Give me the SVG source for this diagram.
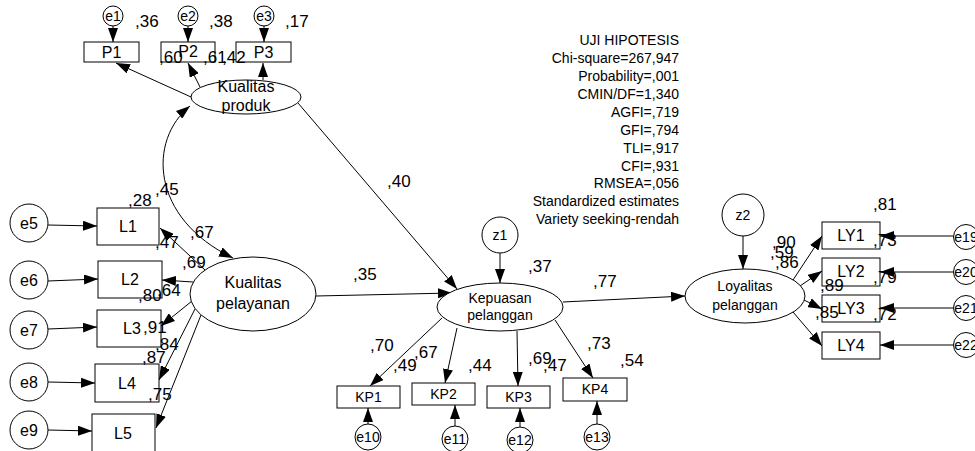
<svg xmlns="http://www.w3.org/2000/svg" width="975" height="451" viewBox="0 0 975 451">
<defs>
<marker id="ah" markerUnits="userSpaceOnUse" markerWidth="14" markerHeight="10" refX="14" refY="5" orient="auto-start-reverse"><path d="M0,0 L14,5 L0,10 z" fill="#000"/></marker>
<style>
text{font-family:"Liberation Sans",Arial,sans-serif;fill:#000}
.b{fill:#fff;stroke:#000;stroke-width:1}
.n{font-size:16px;text-anchor:middle}
.s{font-size:14px;text-anchor:middle}
.e{font-size:14px;text-anchor:middle}
.lb{font-size:17px}
.st{font-size:14px;text-anchor:end}
.c line,.c path{stroke:#000;stroke-width:1;fill:none;marker-end:url(#ah)}
</style>
</defs>
<rect width="975" height="451" fill="#fff"/>
<g class="c" id="connectors">
<line x1="113" y1="26" x2="113" y2="42"/>
<line x1="188" y1="26" x2="188" y2="42"/>
<line x1="264" y1="26" x2="264" y2="42"/>
<line x1="191" y1="97" x2="116" y2="63"/>
<line x1="200" y1="87" x2="188" y2="63"/>
<line x1="263" y1="80" x2="263" y2="63"/>
<path d="M190,106 C148,140 150,218 233,258" marker-start="url(#ah)"/>
<line x1="48" y1="225" x2="97" y2="226"/>
<line x1="48" y1="281" x2="98" y2="279"/>
<line x1="48" y1="329" x2="97" y2="327"/>
<line x1="48" y1="382" x2="95" y2="383"/>
<line x1="48" y1="430" x2="92" y2="431"/>
<line x1="205" y1="270" x2="160" y2="228"/>
<line x1="193" y1="282" x2="162" y2="280"/>
<line x1="192" y1="301" x2="161" y2="326"/>
<line x1="195" y1="309" x2="159" y2="380"/>
<line x1="201" y1="315" x2="156" y2="428"/>
<line x1="298" y1="103" x2="457" y2="289"/>
<line x1="316" y1="296" x2="452" y2="293"/>
<line x1="500" y1="253" x2="500" y2="283"/>
<line x1="442" y1="318" x2="370" y2="386"/>
<line x1="457" y1="328" x2="445" y2="383"/>
<line x1="517" y1="331" x2="518" y2="386"/>
<line x1="555" y1="320" x2="593" y2="378"/>
<line x1="368" y1="424" x2="368" y2="408"/>
<line x1="455" y1="426" x2="455" y2="405"/>
<line x1="520" y1="427" x2="520" y2="408"/>
<line x1="597" y1="424" x2="597" y2="401"/>
<line x1="563" y1="302" x2="685" y2="296"/>
<line x1="743" y1="236" x2="743" y2="269"/>
<line x1="793" y1="280" x2="822" y2="236"/>
<line x1="800" y1="286" x2="822" y2="271"/>
<line x1="804" y1="300" x2="822" y2="309"/>
<line x1="793" y1="312" x2="822" y2="346"/>
<line x1="953" y1="236" x2="880" y2="236"/>
<line x1="953" y1="272" x2="880" y2="272"/>
<line x1="953" y1="308" x2="880" y2="308"/>
<line x1="953" y1="345" x2="880" y2="345"/>
</g>
<g id="e1"><circle class="b" cx="113" cy="16" r="10"/><text class="e" x="113" y="21">e1</text></g>
<g id="e2"><circle class="b" cx="188" cy="16" r="10"/><text class="e" x="188" y="21">e2</text></g>
<g id="e3"><circle class="b" cx="264" cy="16" r="10"/><text class="e" x="264" y="21">e3</text></g>
<g id="P1"><rect class="b" x="84" y="42" width="55" height="20"/><text class="n" x="111.5" y="58">P1</text></g>
<g id="P2"><rect class="b" x="161" y="42" width="54" height="20"/><text class="n" x="188" y="57">P2</text></g>
<g id="P3"><rect class="b" x="236" y="42" width="55" height="20"/><text class="n" x="263.5" y="58">P3</text></g>
<g id="kualitas-produk"><ellipse class="b" cx="246" cy="97" rx="55" ry="17"/><text class="n" x="246" y="92">Kualitas</text><text class="n" x="246" y="111">produk</text></g>
<g id="e5"><circle class="b" cx="29" cy="223" r="19"/><text class="n" x="29" y="229">e5</text></g>
<g id="e6"><circle class="b" cx="29" cy="280" r="19"/><text class="n" x="29" y="286">e6</text></g>
<g id="e7"><circle class="b" cx="29" cy="330" r="19"/><text class="n" x="29" y="336">e7</text></g>
<g id="e8"><circle class="b" cx="29" cy="382" r="19"/><text class="n" x="29" y="388">e8</text></g>
<g id="e9"><circle class="b" cx="29" cy="430" r="19"/><text class="n" x="29" y="436">e9</text></g>
<g id="L1"><rect class="b" x="97" y="208" width="62" height="37"/><text class="n" x="128" y="232">L1</text></g>
<g id="L2"><rect class="b" x="98" y="261" width="64" height="37"/><text class="n" x="130" y="285">L2</text></g>
<g id="L3"><rect class="b" x="97" y="310" width="64" height="37"/><text class="n" x="132" y="334">L3</text></g>
<g id="L4"><rect class="b" x="95" y="364" width="64" height="38"/><text class="n" x="127" y="389">L4</text></g>
<g id="L5"><rect class="b" x="92" y="414" width="63" height="38"/><text class="n" x="123" y="439">L5</text></g>
<g id="kualitas-pelayanan"><ellipse class="b" cx="253" cy="294" rx="63" ry="37"/><text class="n" x="253" y="288">Kualitas</text><text class="n" x="253" y="309">pelayanan</text></g>
<g id="z1"><circle class="b" cx="500" cy="235" r="18"/><text class="s" x="500" y="240">z1</text></g>
<g id="kepuasan-pelanggan"><ellipse class="b" cx="500" cy="307" rx="63" ry="24"/><text class="s" x="500" y="303">Kepuasan</text><text class="s" x="500" y="320">pelanggan</text></g>
<g id="KP1"><rect class="b" x="337" y="386" width="63" height="22"/><text class="s" x="368.5" y="402">KP1</text></g>
<g id="KP2"><rect class="b" x="412" y="383" width="63" height="22"/><text class="s" x="443.5" y="399">KP2</text></g>
<g id="KP3"><rect class="b" x="487" y="386" width="63" height="22"/><text class="s" x="518.5" y="402">KP3</text></g>
<g id="KP4"><rect class="b" x="563" y="378" width="64" height="23"/><text class="s" x="595" y="394">KP4</text></g>
<g id="e10"><circle class="b" cx="368" cy="437" r="13"/><text class="s" x="368" y="442">e10</text></g>
<g id="e11"><circle class="b" cx="455" cy="439" r="13"/><text class="s" x="455" y="444">e11</text></g>
<g id="e12"><circle class="b" cx="520" cy="440" r="13"/><text class="s" x="520" y="445">e12</text></g>
<g id="e13"><circle class="b" cx="597" cy="437" r="13"/><text class="s" x="597" y="442">e13</text></g>
<g id="z2"><circle class="b" cx="743" cy="215" r="21"/><text class="s" x="743" y="220">z2</text></g>
<g id="loyalitas-pelanggan"><ellipse class="b" cx="745" cy="296" rx="60" ry="27"/><text class="s" x="745" y="291">Loyalitas</text><text class="s" x="745" y="310">pelanggan</text></g>
<g id="LY1"><rect class="b" x="822" y="222" width="58" height="27"/><text class="n" x="851" y="241">LY1</text></g>
<g id="LY2"><rect class="b" x="822" y="258" width="58" height="28"/><text class="n" x="851" y="277">LY2</text></g>
<g id="LY3"><rect class="b" x="822" y="295" width="58" height="27"/><text class="n" x="851" y="314">LY3</text></g>
<g id="LY4"><rect class="b" x="822" y="332" width="58" height="27"/><text class="n" x="851" y="351">LY4</text></g>
<g id="e19"><circle class="b" cx="966" cy="237" r="12.5"/><text class="s" x="966" y="242">e19</text></g>
<g id="e20"><circle class="b" cx="966" cy="272" r="12.5"/><text class="s" x="966" y="277">e20</text></g>
<g id="e21"><circle class="b" cx="966" cy="308" r="12.5"/><text class="s" x="966" y="313">e21</text></g>
<g id="e22"><circle class="b" cx="966" cy="345" r="12.5"/><text class="s" x="966" y="350">e22</text></g>
<g id="labels" class="lb">
<text x="135" y="27">,36</text><text x="209" y="27">,38</text><text x="285" y="27">,17</text>
<text x="159" y="63">,60</text><text x="203" y="63">,61</text><text x="222" y="63">,42</text>
<text x="128" y="206">,28</text><text x="155" y="195">,45</text><text x="190" y="238">,67</text>
<text x="155" y="248">,47</text><text x="182" y="268">,69</text><text x="157" y="296">,64</text>
<text x="138" y="301">,80</text><text x="143" y="333">,91</text><text x="155" y="350">,84</text>
<text x="142" y="363">,87</text><text x="148" y="400">,75</text>
<text x="387" y="187">,40</text><text x="353" y="280">,35</text><text x="528" y="272">,37</text>
<text x="593" y="287">,77</text>
<text x="370" y="351">,70</text><text x="414" y="358">,67</text><text x="393" y="371">,49</text>
<text x="468" y="371">,44</text><text x="528" y="364">,69</text><text x="543" y="371">,47</text>
<text x="587" y="349">,73</text><text x="620" y="366">,54</text>
<text x="873" y="210">,81</text><text x="873" y="246">,73</text><text x="873" y="283">,79</text><text x="873" y="320">,72</text>
<text x="772" y="248">,90</text><text x="770" y="258">,59</text><text x="775" y="268">,86</text>
<text x="820" y="291">,89</text><text x="815" y="318">,85</text>
</g>
<g id="stats">
<text class="st" x="679" y="45">UJI HIPOTESIS</text>
<text class="st" x="679" y="63">Chi-square=267,947</text>
<text class="st" x="679" y="81">Probability=,001</text>
<text class="st" x="679" y="99">CMIN/DF=1,340</text>
<text class="st" x="679" y="117">AGFI=,719</text>
<text class="st" x="679" y="135">GFI=,794</text>
<text class="st" x="679" y="153">TLI=,917</text>
<text class="st" x="679" y="171">CFI=,931</text>
<text class="st" x="679" y="188">RMSEA=,056</text>
<text class="st" x="679" y="206">Standardized estimates</text>
<text class="st" x="679" y="224">Variety seeking-rendah</text>
</g>
</svg>
